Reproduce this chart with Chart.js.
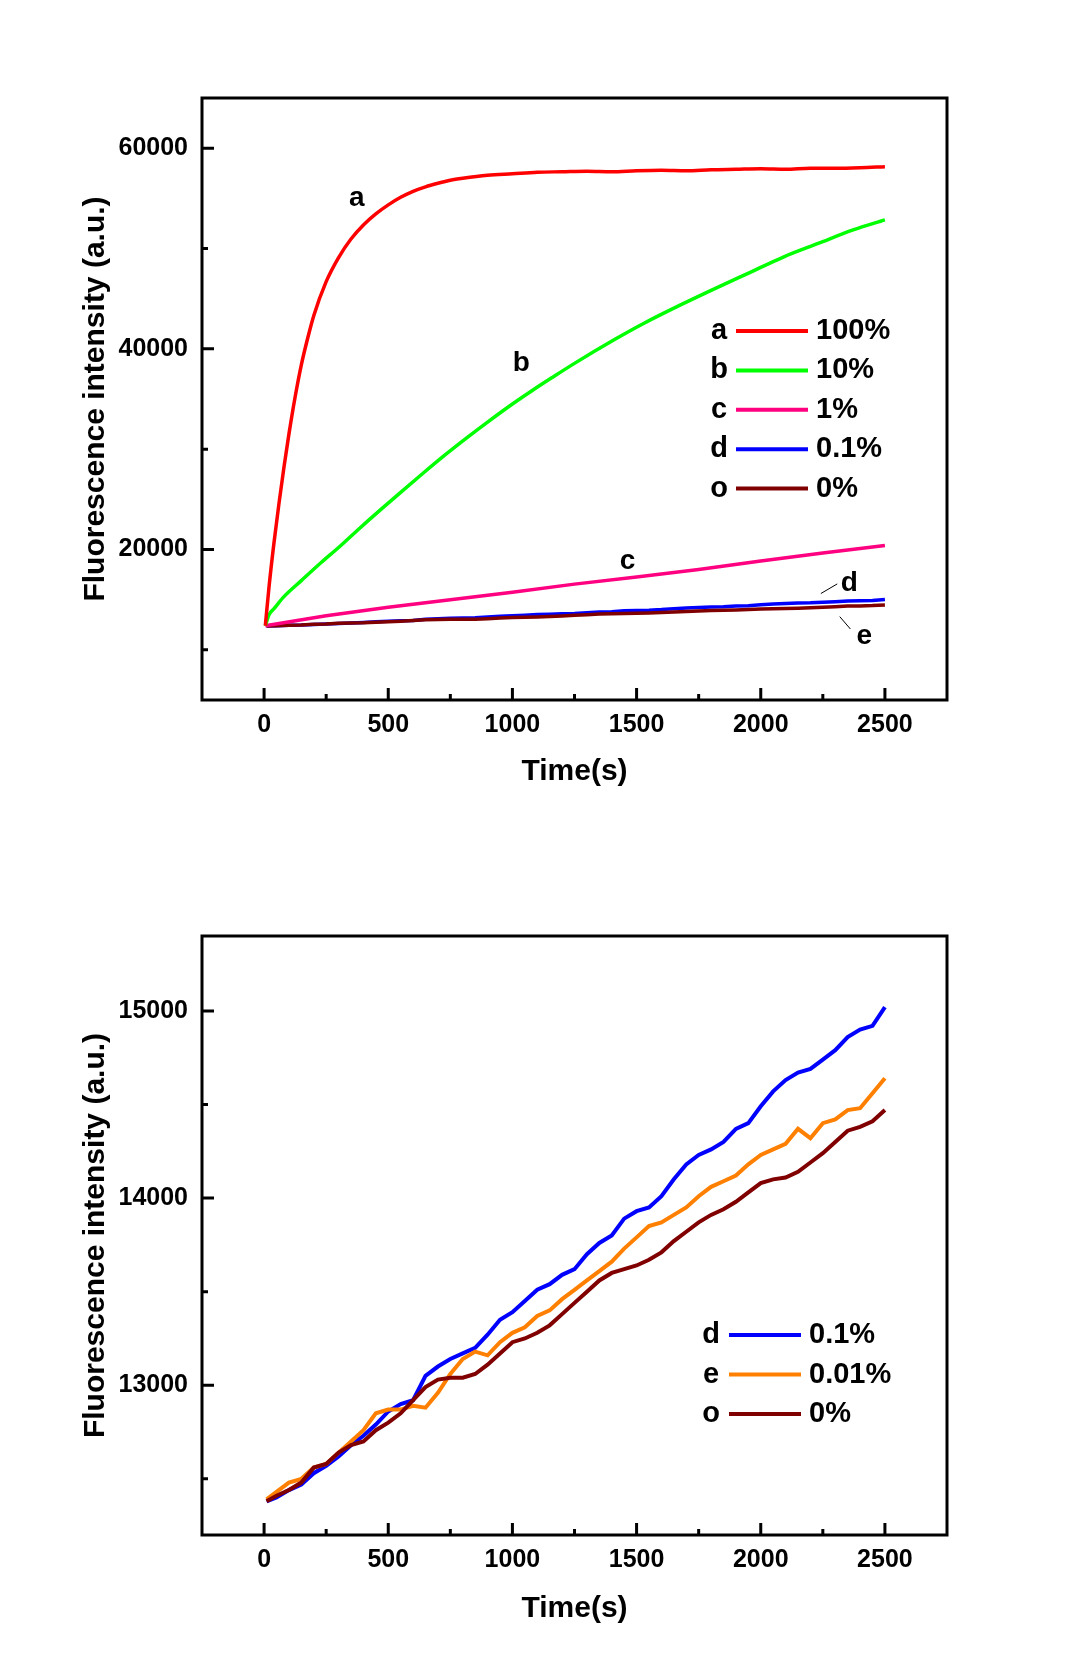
<!DOCTYPE html>
<html>
<head>
<meta charset="utf-8">
<script src="https://cdn.jsdelivr.net/npm/chart.js@4"></script>
<style>
  body { margin: 0; background: #fff; }
  canvas { position: absolute; left: 0; }
  #topChart { top: 0; }
  #bottomChart { top: 832px; }
</style>
</head>
<body>
<canvas id="topChart" width="1085" height="832"></canvas>
<canvas id="bottomChart" width="1085" height="832"></canvas>
<script>
// Ticks
const xTicks = [0, 500, 1000, 1500, 2000, 2500];
const xMinorTicks = [250, 750, 1250, 1750, 2250];
const yTicksTop = [20000, 40000, 60000];
const yMinorTop = [10000, 30000, 50000];
const yTicksLow = [13000, 14000, 15000];
const yMinorLow = [12500, 13500, 14500];

// Top chart series
const timeA = [5,20,40,60,80,100,125,150,175,200,250,300,350,400,450,500,550,600,650,700,750,800,900,1000,1100,1200,1300,1400,1500,1600,1700,1800,1900,2000,2100,2200,2300,2400,2500];
const valuesA = [12400,16300,20700,24600,28200,31500,35200,38400,41000,43300,46700,49100,50950,52350,53450,54350,55100,55700,56150,56500,56800,57000,57300,57450,57600,57650,57700,57650,57750,57800,57750,57850,57900,57950,57900,58000,58000,58050,58150];

const timeB = [5,20,40,80,150,230,300,375,466,550,640,735,820,900,1003,1080,1164,1250,1406,1530,1675,1811,1951,2091,2231,2372,2500];
const valuesB = [12400,13500,14100,15300,16900,18700,20200,21900,23900,25700,27600,29550,31200,32700,34550,35850,37200,38550,40850,42550,44350,45950,47550,49150,50500,51850,52850];

const timeC = [5,250,500,750,1000,1250,1500,1750,2000,2250,2500];
const valuesC = [12400,13400,14250,15000,15750,16550,17250,18000,18850,19650,20400];

// Low concentration series (also used for d and o in the top chart)
const timeLow = [10,50,100,150,200,250,300,350,400,450,500,550,600,650,700,750,800,850,900,950,1000,1050,1100,1150,1200,1250,1300,1350,1400,1450,1500,1550,1600,1650,1700,1750,1800,1850,1900,1950,2000,2050,2100,2150,2200,2250,2300,2350,2400,2450,2500];
const valuesD = [12380,12400,12440,12470,12530,12570,12620,12680,12730,12790,12860,12900,12920,13050,13100,13140,13170,13200,13270,13350,13390,13450,13510,13540,13590,13620,13700,13760,13800,13890,13930,13950,14010,14100,14180,14230,14260,14300,14370,14400,14490,14570,14630,14670,14690,14740,14790,14860,14900,14920,15020];
const valuesE = [12390,12430,12480,12500,12560,12580,12640,12700,12760,12850,12870,12870,12890,12880,12960,13060,13140,13180,13160,13230,13280,13310,13370,13400,13460,13510,13560,13610,13660,13730,13790,13850,13870,13910,13950,14010,14060,14090,14120,14180,14230,14260,14290,14370,14320,14400,14420,14470,14480,14560,14640];
const valuesO = [12380,12410,12440,12480,12560,12580,12640,12680,12700,12760,12800,12850,12920,12990,13030,13040,13040,13060,13110,13170,13230,13250,13280,13320,13380,13440,13500,13560,13600,13620,13640,13670,13710,13770,13820,13870,13910,13940,13980,14030,14080,14100,14110,14140,14190,14240,14300,14360,14380,14410,14470];

const legendKeysTop = ['a', 'b', 'c', 'd', 'o'];
const legendLabelsTop = ['100%', '10%', '1%', '0.1%', '0%'];
const legendKeysLow = ['d', 'e', 'o'];
const legendLabelsLow = ['0.1%', '0.01%', '0%'];

const RED = '#ff0000', GREEN = '#00ff00', PINK = '#ff0080', BLUE = '#0000ff', MAROON = '#800000', ORANGE = '#ff8000';
const FONT = '"Liberation Sans", Arial, sans-serif';

Chart.defaults.font.family = FONT;
Chart.defaults.font.weight = 'bold';
Chart.defaults.color = '#000';

function pts(times, values) {
    return times.map((t, i) => ({ x: t, y: values[i] }));
}

// Marco, marcas hacia dentro, leyenda y etiquetas
const frameTicks = {
    id: 'frameTicks',
    afterDraw(chart, args, opts) {
        const { ctx, chartArea: a, scales: { x, y } } = chart;
        ctx.save();
        ctx.strokeStyle = '#000';
        ctx.lineWidth = 3;
        ctx.strokeRect(a.left, a.top, a.right - a.left, a.bottom - a.top);
        ctx.beginPath();
        xTicks.forEach(v => { const p = x.getPixelForValue(v); ctx.moveTo(p, a.bottom); ctx.lineTo(p, a.bottom - 12); });
        xMinorTicks.forEach(v => { const p = x.getPixelForValue(v); ctx.moveTo(p, a.bottom); ctx.lineTo(p, a.bottom - 6); });
        opts.yMajor.forEach(v => { const p = y.getPixelForValue(v); ctx.moveTo(a.left, p); ctx.lineTo(a.left + 12, p); });
        opts.yMinor.forEach(v => { const p = y.getPixelForValue(v); ctx.moveTo(a.left, p); ctx.lineTo(a.left + 6, p); });
        ctx.stroke();

        // leyenda
        const lg = opts.legend;
        ctx.font = 'bold 29px ' + FONT;
        ctx.textBaseline = 'middle';
        lg.keys.forEach((k, i) => {
            const yy = lg.top + i * lg.step;
            ctx.fillStyle = '#000';
            ctx.textAlign = 'center';
            ctx.fillText(k, lg.keyX, yy);
            ctx.strokeStyle = lg.colors[i];
            ctx.lineWidth = 4;
            ctx.beginPath();
            ctx.moveTo(lg.lineX1, yy);
            ctx.lineTo(lg.lineX2, yy);
            ctx.stroke();
            ctx.textAlign = 'left';
            ctx.fillText(lg.labels[i], lg.textX, yy);
        });

        // etiquetas de curvas
        ctx.font = 'bold 28px ' + FONT;
        ctx.textAlign = 'center';
        ctx.fillStyle = '#000';
        (opts.notes || []).forEach(n => {
            ctx.fillText(n.text, x.getPixelForValue(n.x), y.getPixelForValue(n.y));
        });
        ctx.strokeStyle = '#000';
        ctx.lineWidth = 1;
        (opts.leaders || []).forEach(l => {
            ctx.beginPath();
            ctx.moveTo(x.getPixelForValue(l.x1), y.getPixelForValue(l.y1));
            ctx.lineTo(x.getPixelForValue(l.x2), y.getPixelForValue(l.y2));
            ctx.stroke();
        });
        ctx.restore();
    }
};

function makeOptions(cfg) {
    return {
        responsive: false,
        animation: false,
        devicePixelRatio: 1,
        layout: { padding: { left: 0, right: 138, top: cfg.top, bottom: 0 } },
        scales: {
            x: {
                type: 'linear',
                min: -250,
                max: 2750,
                afterBuildTicks: s => { s.ticks = xTicks.map(v => ({ value: v })); },
                afterFit: s => { s.height = cfg.xHeight; },
                grid: { display: false, drawTicks: false },
                border: { display: false },
                ticks: { font: { size: 25, weight: 'bold' }, padding: 10, maxRotation: 0, callback: v => String(v) },
                title: { display: true, text: 'Time(s)', font: { size: 30, weight: 'bold' }, padding: { top: 0, bottom: cfg.xTitlePad } }
            },
            y: {
                type: 'linear',
                min: cfg.yMin,
                max: cfg.yMax,
                afterBuildTicks: s => { s.ticks = cfg.yMajor.map(v => ({ value: v })); },
                afterFit: s => { s.width = 202; },
                grid: { display: false, drawTicks: false },
                border: { display: false },
                ticks: { font: { size: 25, weight: 'bold' }, padding: 14, callback: v => String(v) },
                title: { display: true, text: 'Fluorescence intensity (a.u.)', font: { size: 30, weight: 'bold' }, padding: { top: 78, bottom: 0 } }
            }
        },
        plugins: {
            legend: { display: false },
            tooltip: { enabled: false },
            frameTicks: {
                yMajor: cfg.yMajor,
                yMinor: cfg.yMinor,
                legend: cfg.legend,
                notes: cfg.notes,
                leaders: cfg.leaders
            }
        }
    };
}

function line(data, color, width, smooth) {
    return {
        data: data,
        borderColor: color,
        borderWidth: width,
        pointRadius: 0,
        fill: false,
        tension: 0,
        cubicInterpolationMode: smooth ? 'monotone' : 'default'
    };
}

// Gráfico superior
new Chart(document.getElementById('topChart').getContext('2d'), {
    type: 'line',
    data: {
        datasets: [
            line(pts(timeA, valuesA), RED, 3.5, true),
            line(pts(timeB, valuesB), GREEN, 3.5, true),
            line(pts(timeC, valuesC), PINK, 3.5, false),
            line(pts(timeLow, valuesO), MAROON, 3.5, false),
            line(pts(timeLow, valuesD), BLUE, 3.5, false)
        ]
    },
    options: makeOptions({
        top: 98, xHeight: 132, xTitlePad: 42,
        yMin: 5000, yMax: 65000,
        yMajor: yTicksTop, yMinor: yMinorTop,
        legend: { keys: legendKeysTop, labels: legendLabelsTop, colors: [RED, GREEN, PINK, BLUE, MAROON],
                  keyX: 719, lineX1: 736, lineX2: 808, textX: 816, top: 331, step: 39.4 },
        notes: [
            { text: 'a', x: 373, y: 55000 },
            { text: 'b', x: 1036, y: 38600 },
            { text: 'c', x: 1464, y: 18850 },
            { text: 'd', x: 2357, y: 16660 },
            { text: 'e', x: 2417, y: 11400 }
        ],
        leaders: [
            { x1: 2242, y1: 15610, x2: 2308, y2: 16570 },
            { x1: 2318, y1: 13310, x2: 2361, y2: 12075 }
        ]
    }),
    plugins: [frameTicks]
});

// Gráfico inferior
new Chart(document.getElementById('bottomChart').getContext('2d'), {
    type: 'line',
    data: {
        datasets: [
            line(pts(timeLow, valuesO), MAROON, 4, false),
            line(pts(timeLow, valuesE), ORANGE, 4, false),
            line(pts(timeLow, valuesD), BLUE, 4, false)
        ]
    },
    options: makeOptions({
        top: 104, xHeight: 129, xTitlePad: 37,
        yMin: 12200, yMax: 15400,
        yMajor: yTicksLow, yMinor: yMinorLow,
        legend: { keys: legendKeysLow, labels: legendLabelsLow, colors: [BLUE, ORANGE, MAROON],
                  keyX: 711, lineX1: 729, lineX2: 801, textX: 809, top: 503, step: 39.5 }
    }),
    plugins: [frameTicks]
});
</script>
</body>
</html>
